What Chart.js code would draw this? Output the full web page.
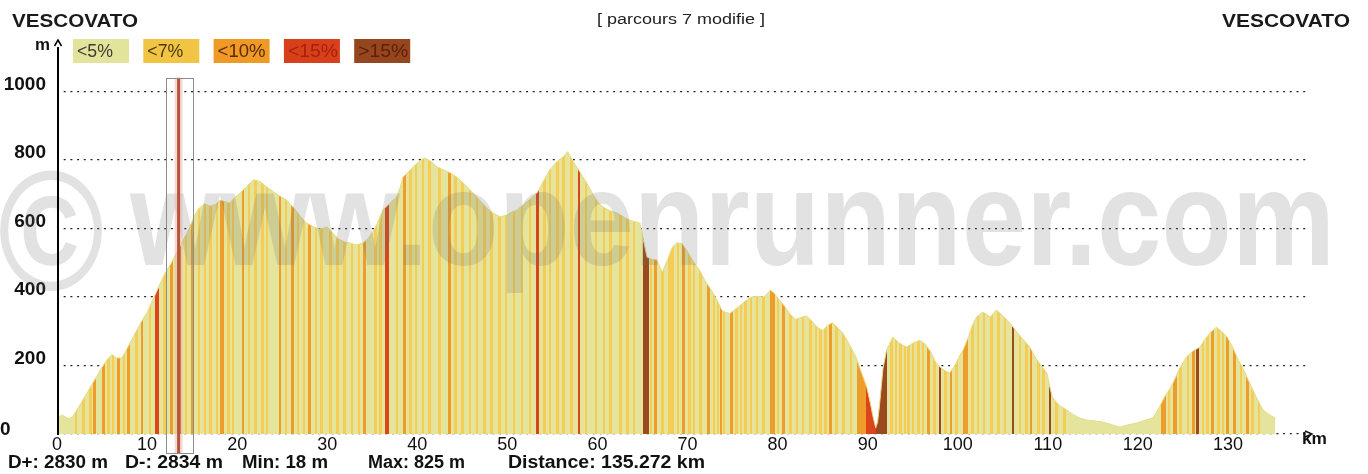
<!DOCTYPE html>
<html><head><meta charset="utf-8">
<script src="https://cdn.jsdelivr.net/npm/chart.js@4.4.1/dist/chart.umd.min.js"></script>
<style>html,body{margin:0;padding:0;background:#fff;overflow:hidden}#wrap{width:1368px;height:474px;position:relative}canvas{display:block}</style>
</head><body><div id="wrap"><canvas id="c" width="1368" height="474"></canvas></div>
<script>
// ---- data ----
const distanceKm = [0,0.6,1.2,1.7,2.2,3,4,5,5.6,6.1,6.6,7.2,7.8,8.5,9.3,10,10.7,11.3,12,12.6,13.3,14,14.7,15.2,15.8,16.4,17,17.6,18.1,18.7,19.2,19.7,20.4,21,21.8,22.5,23.3,24,24.7,25.5,26.3,27,27.7,28.5,29.2,30,30.5,31.2,32,32.5,33.2,34,34.6,35.3,35.8,36.2,36.9,37.7,38.1,38.4,39,39.5,40,40.8,41.4,42.2,43,43.7,44.4,45.3,46.2,47,47.7,48.4,49.2,50,50.5,51.1,51.7,52.5,53.3,54,54.7,55.5,56.2,56.7,57.2,57.7,58.3,58.8,59.5,60.1,60.6,61.4,62.2,63,63.8,64.7,65,65.5,66,66.6,67.2,67.8,68.3,68.8,69.4,70,70.6,71.3,72,72.7,73.3,73.8,74.2,74.7,75.2,75.7,76.4,77.1,77.8,78.5,79.2,79.6,80.2,80.8,81.4,82,82.6,83.2,83.8,84.4,85,85.6,86.1,86.7,87.2,87.8,88.7,89.3,89.9,90.3,90.6,90.9,91.1,91.3,91.7,92.1,92.8,93.4,94,94.3,95,95.8,96.4,97,97.5,98,98.6,99.1,99.7,100.2,100.6,101.2,101.6,102.1,102.8,103.6,104.3,105,105.8,106.5,107.2,108,108.7,109.4,109.9,110.2,110.5,111.2,112.1,112.9,113.6,114.3,115.2,116.1,117,118,118.8,119.9,120.8,121.6,122,122.4,123,123.5,123.9,124.6,125.4,126.1,126.9,127.5,128,128.7,129.3,129.9,130.5,131,131.7,132.4,133.1,133.9,134.5,135,135.272];
const elevationM = [48,55,45,48,70,105,150,195,218,232,222,222,250,285,325,355,395,430,470,495,530,565,600,635,660,672,665,670,683,678,674,690,705,722,742,738,721,708,695,683,660,636,616,605,598,604,590,570,560,558,552,558,572,600,630,654,672,692,720,750,765,778,791,806,798,780,770,762,750,728,704,680,660,645,634,640,648,654,668,685,704,738,771,795,809,825,800,780,755,733,700,675,663,652,645,632,622,616,580,517,510,508,472,510,545,558,556,532,505,480,445,418,390,362,355,352,362,372,388,400,402,400,420,412,392,372,350,335,340,345,330,312,302,318,325,310,296,270,225,180,137,90,50,18,35,79,190,245,283,268,258,254,265,274,262,240,212,196,185,178,200,228,245,285,315,342,356,342,362,345,324,300,278,254,220,195,178,140,108,85,70,55,46,41,38,35,28,20,26,32,40,47,60,79,110,130,149,190,225,242,254,278,295,312,300,283,255,225,190,149,110,70,58,50,48];
// gradient segments: [start km, end km, grade class] (1:<7% 2:<10% 3:<15% 4:>15%)
const gradeSegments = [
 [1.95,2.23,1],[2.8,3.08,1],[3.6,3.88,1],[4.0,4.35,2],[5.05,5.35,2],[5.6,5.88,1],[6.1,6.38,1],[6.65,6.95,2],
 [7.3,7.58,1],[7.75,8.05,2],[8.7,8.98,1],[9.3,9.6,2],[10.2,10.48,1],[10.9,11.35,3],[11.8,12.08,1],[12.6,12.9,2],
 [13.45,13.75,3],[14.2,14.48,1],[14.9,15.2,2],[15.6,15.88,1],[16.3,16.58,1],[16.9,17.18,1],[17.6,17.88,1],[18.15,18.5,2],
 [18.9,19.18,1],[19.4,19.68,1],[20.5,20.8,2],[21.2,21.48,1],[21.9,22.18,1],[22.7,22.98,1],[23.2,23.48,1],[24.6,24.9,2],
 [25.3,25.58,1],[26.0,26.3,2],[26.6,26.88,1],[27.3,27.58,1],[27.9,28.2,2],[28.6,28.88,1],[29.2,29.48,1],[30.2,30.48,1],
 [31.0,31.28,1],[31.8,32.08,1],[32.6,32.88,1],[33.4,33.68,1],[34.0,34.3,2],[35.2,35.48,1],[35.8,36.08,1],[36.45,36.9,3],
 [37.6,37.88,1],[38.4,38.7,2],[39.1,39.38,1],[39.7,39.98,1],[40.5,40.78,1],[41.2,41.48,1],[42.3,42.58,1],[43.4,43.7,2],
 [44.1,44.38,1],[44.9,45.18,1],[45.7,45.98,1],[46.5,46.78,1],[47.3,47.58,1],[48.1,48.38,1],[49.0,49.28,1],[49.7,49.98,1],
 [50.6,50.88,1],[51.5,51.78,1],[52.4,52.68,1],[53.2,53.5,3],[54.0,54.28,1],[54.6,54.88,1],[55.4,55.68,1],[56.1,56.38,1],
 [57.0,57.28,1],[57.8,58.1,3],[58.6,58.88,1],[59.7,59.98,1],[60.6,60.88,1],[61.3,61.58,1],[62.4,62.68,1],[63.2,63.48,1],
 [63.9,64.18,1],[65.05,65.7,4],[65.8,66.08,1],[66.3,66.6,2],[67.1,67.38,1],[67.8,68.5,1],[68.8,69.08,1],[69.4,69.7,2],
 [70.1,70.38,1],[70.6,70.88,1],[71.3,71.58,1],[72.2,72.5,2],[72.8,73.08,1],[73.3,73.5,1],[73.6,73.85,2],[73.9,74.18,1],
 [74.7,75.0,2],[75.3,75.58,1],[75.8,76.08,1],[76.3,76.58,1],[76.9,77.18,1],[77.6,77.88,1],[78.3,78.58,1],[79.2,79.75,2],
 [79.9,80.18,1],[80.5,80.8,2],[81.3,81.58,1],[82.0,82.28,1],[82.7,82.98,1],[83.5,83.78,1],[84.1,84.38,1],[84.6,84.88,1],
 [85.2,85.48,1],[85.7,86.0,2],[86.4,86.68,1],[87.2,87.48,1],[88.0,88.28,1],[88.8,89.8,2],[89.8,90.9,3],[90.9,92.1,4],
 [92.5,92.78,1],[93.0,93.28,1],[93.5,93.78,1],[94.0,94.28,1],[94.4,94.68,1],[94.9,95.18,1],[95.5,95.78,1],[96.0,96.28,1],
 [96.6,96.9,2],[97.3,97.58,1],[97.9,98.15,4],[98.5,98.78,1],[99.1,99.4,2],[99.7,99.98,1],[100.6,101.1,2],[101.5,101.78,1],
 [102.1,102.38,1],[102.8,103.08,1],[103.6,103.88,1],[104.4,104.68,1],[105.1,105.38,1],[106.0,106.25,4],[106.8,107.08,1],[107.5,107.78,1],
 [108.0,108.3,2],[108.8,109.08,1],[109.4,109.68,1],[110.1,110.35,4],[110.8,111.08,1],[111.7,111.98,1],
 [122.6,123.1,2],[123.3,123.58,1],[123.9,124.3,2],[124.6,124.88,1],[125.4,125.68,1],[126.0,126.35,2],[126.5,126.75,4],[127.1,127.38,1],
 [127.6,127.88,1],[128.1,128.5,2],[128.8,129.08,1],[129.3,129.58,1],[129.8,130.15,2],[130.6,130.95,2],[131.3,131.58,1],[132.0,132.35,2],
 [132.6,132.88,1],[133.3,133.58,1]
];
const gradeLabels = ['<5%','<7%','<10%','<15%','>15%'];
const xTickValues = [0,10,20,30,40,50,60,70,80,90,100,110,120,130];
const yTickValues = [0,200,400,600,800,1000];
const startName = 'VESCOVATO';
const endName = 'VESCOVATO';
const subtitle = '[ parcours 7 modifie ]';
const statTexts = ['D+: 2830 m','D-: 2834 m','Min: 18 m','Max: 825 m','Distance: 135.272 km'];
const watermarkMark = '\u00A9';
const watermarkSite = 'www.openrunner.com';
const cursorKm = [12.1, 13.5, 15.1];

// ---- styles ----
const gradeColors = ['#e4e49d','#f4cc56','#ef9d2a','#dc441c','#9a4a1e'];
const legendColors = ['#e2e49c','#f2c444','#ef9a24','#d8401c','#96461e'];
const legendTextColors = ['#3c3c30','#4a3810','#5a2a0a','#a8200c','#5c2008'];
const FONT = "'Liberation Sans', Arial, sans-serif";

function stripeFill(chart){
  const area = chart.chartArea, xs = chart.scales && chart.scales.x;
  if(!area || !xs) return gradeColors[0];
  const x0 = area.left, x1 = area.right;
  const g = chart.ctx.createLinearGradient(x0,0,x1,0);
  const pos = km => Math.min(1, Math.max(0, (xs.getPixelForValue(km)-x0)/(x1-x0)));
  g.addColorStop(0, gradeColors[0]);
  for(const seg of gradeSegments){
    const a = pos(seg[0]), b = pos(seg[1]), c = gradeColors[seg[2]] || gradeColors[0];
    g.addColorStop(a, gradeColors[0]); g.addColorStop(a, c);
    g.addColorStop(b, c); g.addColorStop(b, gradeColors[0]);
  }
  g.addColorStop(1, gradeColors[0]);
  return g;
}

function txt(ctx, s, x, y, font, color, w){
  ctx.save(); ctx.font = font; ctx.fillStyle = color;
  ctx.textBaseline = 'alphabetic'; ctx.textAlign = 'left';
  const m = ctx.measureText(s).width; const sx = w ? w/m : 1;
  ctx.translate(x, y); ctx.scale(sx, 1); ctx.fillText(s, 0, 0); ctx.restore();
}

const decor = {
  id: 'decor',
  beforeDraw(chart){
    const ctx = chart.ctx; ctx.save(); ctx.fillStyle = '#fff'; ctx.fillRect(0,0,chart.width,chart.height); ctx.restore();
  },
  afterDatasetsDraw(chart){
    const ctx = chart.ctx, xs = chart.scales.x, ys = chart.scales.y, area = chart.chartArea;
    txt(ctx, watermarkMark, -2, 290, 'bold 170px '+FONT, 'rgba(110,110,110,0.2)', 106);
    txt(ctx, watermarkSite, 130, 265, 'bold 135px '+FONT, 'rgba(110,110,110,0.2)', 1205);
    const cl = xs.getPixelForValue(cursorKm[0]), cm = xs.getPixelForValue(cursorKm[1]), cr = xs.getPixelForValue(cursorKm[2]);
    const ct = ys.getPixelForValue(1040), cb = area.bottom + 19;
    ctx.save();
    ctx.fillStyle = 'rgba(236,170,160,0.45)'; ctx.fillRect(cm-4, ct, 8, cb-ct);
    ctx.fillStyle = '#b4553c'; ctx.fillRect(cm-1.5, ct, 3, cb-ct);
    ctx.strokeStyle = '#8c8c8c'; ctx.lineWidth = 1;
    ctx.strokeRect(Math.round(cl)+0.5, Math.round(ct)+0.5, Math.round(cr-cl), Math.round(cb-ct));
    ctx.restore();
    ctx.save();
    ctx.strokeStyle = '#000'; ctx.lineWidth = 2;
    ctx.beginPath(); ctx.moveTo(area.left+1, area.top); ctx.lineTo(area.left+1, area.bottom+1); ctx.stroke();
    ctx.lineWidth = 1.5; ctx.beginPath(); ctx.moveTo(area.left-2.5, 46); ctx.lineTo(area.left+1, 40); ctx.lineTo(area.left+4.5, 46); ctx.stroke();
    ctx.strokeStyle = '#111'; ctx.lineWidth = 1.4;
    ctx.beginPath(); ctx.moveTo(1305, 431); ctx.lineTo(1312, 434); ctx.lineTo(1305, 437); ctx.stroke();
    ctx.restore();
    txt(ctx, 'm', 35, 50, 'bold 16px '+FONT, '#111', 15);
    txt(ctx, 'km', 1302, 444, 'bold 16px '+FONT, '#111', 25);
    txt(ctx, '0', 0, 435, 'bold 19px '+FONT, '#111');
    txt(ctx, startName, 12, 27, 'bold 19px '+FONT, '#1a1a1a', 126);
    txt(ctx, endName, 1222, 27, 'bold 19px '+FONT, '#1a1a1a', 128);
    txt(ctx, subtitle, 597, 24, '14px '+FONT, '#222', 168);
    const lw = [36,36,48,50,50];
    for(let i=0;i<gradeLabels.length;i++){
      const bx = 73 + i*70.3;
      ctx.save(); ctx.fillStyle = legendColors[i]; ctx.fillRect(bx, 39, 56, 24); ctx.restore();
      txt(ctx, gradeLabels[i], bx+4, 57, '18px '+FONT, legendTextColors[i], lw[i]);
    }
    const sx = [8,125,242,368,508], sw = [100,98,86,97,197];
    for(let i=0;i<statTexts.length;i++) txt(ctx, statTexts[i], sx[i], 468, 'bold 18px '+FONT, '#111', sw[i]);
  }
};

new Chart(document.getElementById('c'), {
  type: 'line',
  data: { datasets: [{
    data: distanceKm.map((d,i)=>({x:d, y:elevationM[i]})),
    fill: 'origin', pointRadius: 0, borderWidth: 1, borderColor: '#e6dc86', tension: 0,
    backgroundColor: ctx => stripeFill(ctx.chart)
  }]},
  options: {
    responsive: false, animation: false, devicePixelRatio: 1,
    layout: { padding: { left: 0, right: 59, top: 47, bottom: 0 } },
    plugins: { legend: { display: false }, tooltip: { enabled: false } },
    events: [],
    scales: {
      x: {
        type: 'linear', min: 0, max: 139,
        afterFit: s => { s.height = 40; },
        afterBuildTicks: s => { s.ticks = xTickValues.map(v => ({value: v})); },
        ticks: { font: { family: FONT, size: 18 }, color: '#111', padding: -8, maxRotation: 0, autoSkip: false },
        grid: { display: false }, border: { display: false }
      },
      y: {
        min: 0, max: 1130,
        afterFit: s => { s.width = 57; },
        afterBuildTicks: s => { s.ticks = yTickValues.map(v => ({value: v})); },
        ticks: { font: { family: FONT, size: 19, weight: 'bold' }, color: '#111', padding: 11, labelOffset: -7,
                 callback: v => v === 0 ? '' : String(v) },
        grid: { color: '#222', lineWidth: 1.2, drawTicks: false },
        border: { display: false, dash: [2, 4.7] }
      }
    }
  },
  plugins: [decor]
});
</script>
</body></html>
